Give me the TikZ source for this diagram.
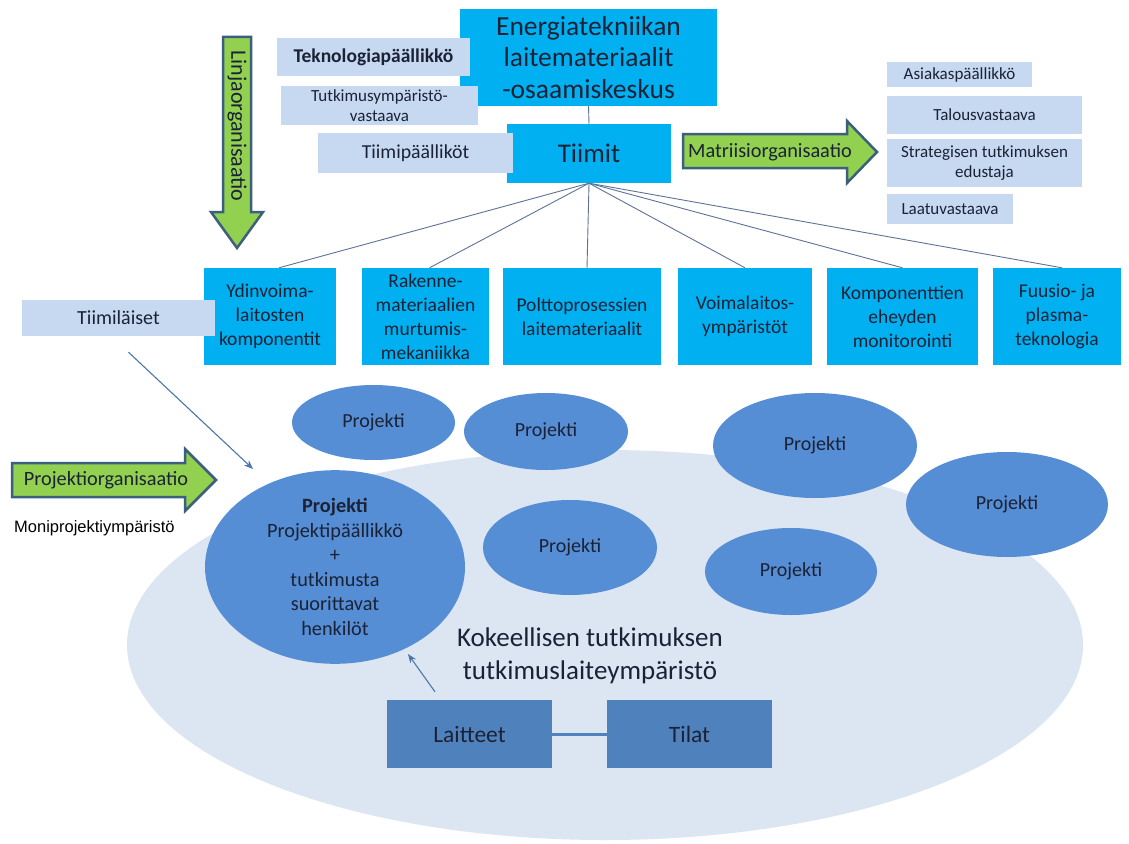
\documentclass[tikz,border=0pt]{standalone}
\usepackage{fontspec}
\setmainfont{Carlito}
\newfontfamily\arialfont{Liberation Sans}
\usetikzlibrary{shapes.geometric,arrows.meta}

\definecolor{cyanbox}{HTML}{00B0F0}
\definecolor{palebox}{HTML}{C6D9F1}
\definecolor{greenarrow}{HTML}{92D050}
\definecolor{arrowedge}{HTML}{3C5F7E}
\definecolor{projblue}{HTML}{558ED5}
\definecolor{devblue}{HTML}{4F81BD}
\definecolor{envpale}{HTML}{DCE6F2}
\definecolor{linkgray}{HTML}{5E7296}
\definecolor{pointer}{HTML}{4A76A8}
\definecolor{textnavy}{HTML}{1B2236}

\tikzset{
  unitbox/.style={rectangle, fill=cyanbox, inner sep=0pt, align=center, text=textnavy},
  teambox/.style={unitbox, minimum height=97, font=\fontsize{19.5}{24}\selectfont},
  rolebox/.style={rectangle, fill=palebox, inner sep=0pt, align=center, text=textnavy},
  projell/.style={ellipse, fill=projblue, inner sep=0pt, align=center, text=textnavy,
    font=\fontsize{20}{22}\selectfont},
  devbox/.style={rectangle, fill=devblue, inner sep=0pt, text=textnavy,
    minimum width=165, minimum height=68, font=\fontsize{23.5}{26}\selectfont},
  teamlink/.style={draw=linkgray, line width=0.9pt},
  bigarrow/.style={fill=greenarrow, draw=arrowedge, line width=2.5pt, line join=miter},
  arrowlabel/.style={text=textnavy, font=\fontsize{20.3}{22}\selectfont, inner sep=0pt},
  pointarrow/.style={draw=pointer, line width=1.1pt, -{Stealth[length=9pt,width=7pt]}},
}

\begin{document}
\begin{tikzpicture}[x=1pt,y=-1pt]
\useasboundingbox[fill=white] (0,0) rectangle (1129,843);

% --- research environment (pale background ellipse) ---
\node[ellipse, fill=envpale, minimum width=956, minimum height=390, inner sep=0pt] (env) at (605,645) {};
\node[text=textnavy, align=center, font=\fontsize{27}{33}\selectfont] (envlabel) at (590,656)
  {Kokeellisen tutkimuksen\\tutkimuslaiteympäristö};

% --- projects ---
\node[projell, minimum width=163, minimum height=75] (p1) at (373.5,422.5) {Projekti};
\node[projell, minimum width=164, minimum height=77] (p2) at (546,431.5) {Projekti};
\node[projell, minimum width=204, minimum height=105] (p3) at (815,445.5) {Projekti};
\node[projell, minimum width=202, minimum height=105] (p4) at (1007,504.5) {Projekti};
\node[projell, minimum width=174, minimum height=95] (p5) at (570,547.5) {Projekti};
\node[projell, minimum width=172, minimum height=87] (p6) at (791,571.5) {Projekti};
\node[projell, minimum width=260, minimum height=190, font=\fontsize{20.3}{24.5}\selectfont] (pmain) at (335,567)
  {\textbf{Projekti}\\Projektipäällikkö\\+\\tutkimusta\\suorittavat\\henkilöt};

% --- equipment and facilities ---
\node[devbox] (laitteet) at (469.5,734) {Laitteet};
\node[devbox] (tilat) at (689.5,734) {Tilat};
\draw[draw=devblue, line width=3pt] (laitteet.east) -- (tilat.west);
\coordinate (devtip) at (408,654);
\draw[pointarrow] ([xshift=-34.5,yshift=8]laitteet.north) -- (devtip);

% --- line organisation: centre and teams ---
\node[unitbox, minimum width=257, minimum height=97, font=\fontsize{27.5}{31.5}\selectfont] (centre) at (588.5,57.5)
  {Energiatekniikan\\laitemateriaalit\\-osaamiskeskus};
\node[unitbox, minimum width=164, minimum height=59, font=\fontsize{27}{30}\selectfont] (tiimit) at (589,153.5) {Tiimit};
\draw[teamlink] (centre.south) -- (tiimit.north);

\node[teambox, minimum width=132] (t1) at (270,316.5) {Ydinvoima-\\laitosten\\komponentit};
\node[teambox, minimum width=127] (t2) at (425.5,316.5) {Rakenne-\\materiaalien\\murtumis-\\mekaniikka};
\node[teambox, minimum width=158] (t3) at (582,316.5) {Polttoprosessien\\laitemateriaalit};
\node[teambox, minimum width=134] (t4) at (745,316.5) {Voimalaitos-\\ympäristöt};
\node[teambox, minimum width=151] (t5) at (902.5,316.5) {Komponenttien\\eheyden\\monitorointi};
\node[teambox, minimum width=128] (t6) at (1057,316.5) {Fuusio- ja\\plasma-\\teknologia};

\draw[teamlink] (tiimit.south) -- ([xshift=9]t1.north);
\draw[teamlink] (tiimit.south) -- ([xshift=4]t2.north);
\draw[teamlink] (tiimit.south) -- ([xshift=5]t3.north);
\draw[teamlink] (tiimit.south) -- (t4.north);
\draw[teamlink] (tiimit.south) -- (t5.north);
\draw[teamlink] (tiimit.south) -- ([xshift=5]t6.north);

% --- roles ---
\node[rolebox, minimum width=193, minimum height=38, font=\bfseries\fontsize{19.5}{22}\selectfont] (tekno) at (373.5,57) {Teknologiapäällikkö};
\node[rolebox, minimum width=197, minimum height=39, font=\fontsize{17}{19.5}\selectfont] (tutkvast) at (379.5,105.5) {Tutkimusympäristö-\\vastaava};
\node[rolebox, minimum width=195, minimum height=40, font=\fontsize{19.8}{22}\selectfont] (tiimip) at (415.5,153) {Tiimipäälliköt};
\node[rolebox, minimum width=193, minimum height=36, font=\fontsize{20}{22}\selectfont] (tiimil) at (118.5,318) {Tiimiläiset};

\node[rolebox, minimum width=145, minimum height=25, font=\fontsize{17}{19}\selectfont] (asiakas) at (959.5,74.5) {Asiakaspäällikkö};
\node[rolebox, minimum width=195, minimum height=38, font=\fontsize{17}{19}\selectfont] (talous) at (984.5,115) {Talousvastaava};
\node[rolebox, minimum width=195, minimum height=48, font=\fontsize{17}{20}\selectfont] (strateg) at (984.5,163) {Strategisen tutkimuksen\\edustaja};
\node[rolebox, minimum width=126, minimum height=30, font=\fontsize{17}{19}\selectfont] (laatu) at (950,209) {Laatuvastaava};

\coordinate (membertip) at (253,469);
\draw[pointarrow] ([xshift=10,yshift=-16]tiimil.south) -- (membertip);

% --- organisation type arrows ---
\draw[bigarrow] (223,37) -- (251,37) -- (251,212) -- (263,212) -- (237,248) -- (211,212) -- (223,212) -- cycle;
\node[arrowlabel, rotate=-90, font=\fontsize{22}{24}\selectfont] (linja) at (237,126) {Linjaorganisaatio};

\draw[bigarrow] (683,134) -- (847,134) -- (847,121) -- (877,152) -- (847,183) -- (847,168) -- (683,168) -- cycle;
\node[arrowlabel] (matriisi) at (770,152) {Matriisiorganisaatio};

\draw[bigarrow] (12,463) -- (185,463) -- (185,449) -- (216,480) -- (185,511) -- (185,497) -- (12,497) -- cycle;
\node[arrowlabel] (projorg) at (106,480) {Projektiorganisaatio};

\node[anchor=west, inner sep=0pt, text=black, font=\arialfont\fontsize{16.5}{18}\selectfont] (moni) at (14,528) {Moniprojektiympäristö};

\end{tikzpicture}
\end{document}
